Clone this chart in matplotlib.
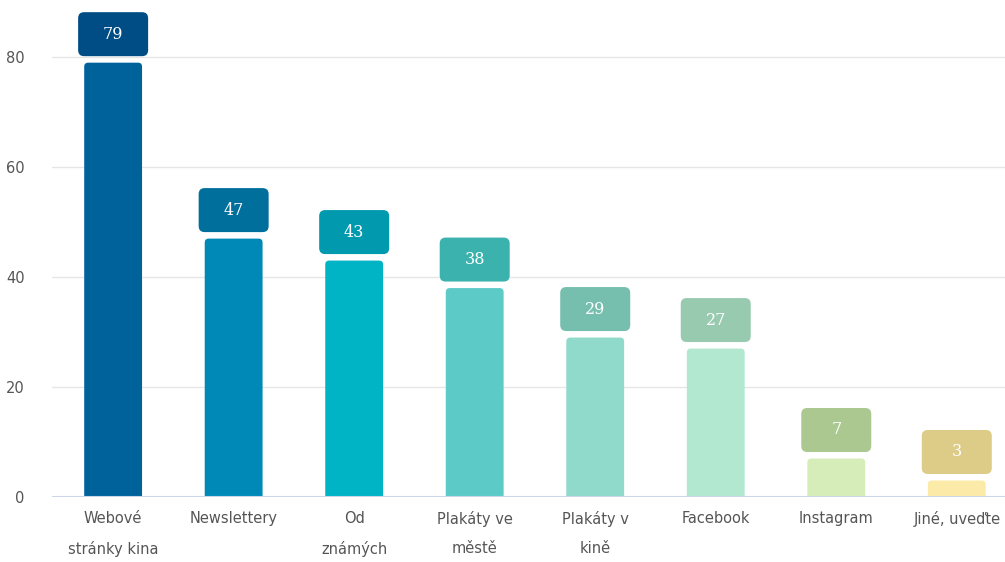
import matplotlib.pyplot as plt
from matplotlib.patches import FancyBboxPatch

categories = ["Webové\nstránky kina", "Newslettery", "Od\nznámých", "Plakáty ve\nměstě",
              "Plakáty v\nkině", "Facebook", "Instagram", "Jiné, uveďte"]
values = [79, 47, 43, 38, 29, 27, 7, 3]
bar_colors = ["#00629B", "#0089B6", "#00B4C5", "#5CCBC8", "#8FDACB", "#B3E8D0", "#D6EDBA", "#FCEAA8"]
box_colors = ["#004D85", "#006F9C", "#0099AE", "#3CB2AE", "#76BFAE", "#98CAAF", "#ABC890", "#DDCB88"]

fig = plt.figure(figsize=(10.05, 5.62), dpi=100)
ax = fig.add_axes([0.052, 0.1157, 0.948, 0.8843])

x = list(range(len(values)))
ax.set_xlim(-0.505, 7.4)
ax.set_ylim(0, 90.4)

# pixels per data unit, to keep rounded corners circular
px_x = 0.948 * 1005 / (7.4 + 0.505)
px_y = 0.8843 * 562 / 90.4
aspect = px_x / px_y

bars = ax.bar(x, values, width=0.48, color=bar_colors)
for b, c in zip(bars, bar_colors):
    b.set_visible(False)
    r = 4 / px_x
    # start below zero so the bottom rounding is clipped by the axes
    p = FancyBboxPatch((b.get_x(), -r * aspect), b.get_width(), b.get_height() + r * aspect,
                       boxstyle=f"round,pad=0,rounding_size={r}",
                       mutation_aspect=aspect, fc=c, ec="none", zorder=3)
    ax.add_patch(p)
    p.set_clip_path(ax.patch)

# value labels in rounded boxes
bw = 70 / px_x
bh = 44 / px_y
off = 28.5 / px_y
for xi, v, c in zip(x, values, box_colors):
    r = 6 / px_x
    cy = v + off
    p = FancyBboxPatch((xi - bw / 2, cy - bh / 2), bw, bh,
                       boxstyle=f"round,pad=0,rounding_size={r}",
                       mutation_aspect=aspect, fc=c, ec="none", zorder=5)
    ax.add_patch(p)
    ax.text(xi, cy, str(v), ha="center", va="center", color="white",
            fontsize=11.5, family="DejaVu Serif", zorder=6)

ax.set_yticks([0, 20, 40, 60, 80])
ax.grid(axis="y", color="#e6e6e6", linewidth=1, zorder=0)
ax.axhline(0, color="#ccd6eb", linewidth=1.5, zorder=5)
for s in ax.spines.values():
    s.set_visible(False)
ax.tick_params(length=0, colors="#555555", labelsize=10.5)
ax.tick_params(axis="y", pad=20)
ax.set_xticks(x)
ax.set_xticklabels(categories, family="DejaVu Sans", fontsize=10.5, linespacing=2.15, color="#555555")
ax.tick_params(axis="x", pad=10)
for lbl in ax.get_yticklabels():
    lbl.set_family("DejaVu Sans")

fig.savefig("out.png", dpi=100)
plt.close(fig)
